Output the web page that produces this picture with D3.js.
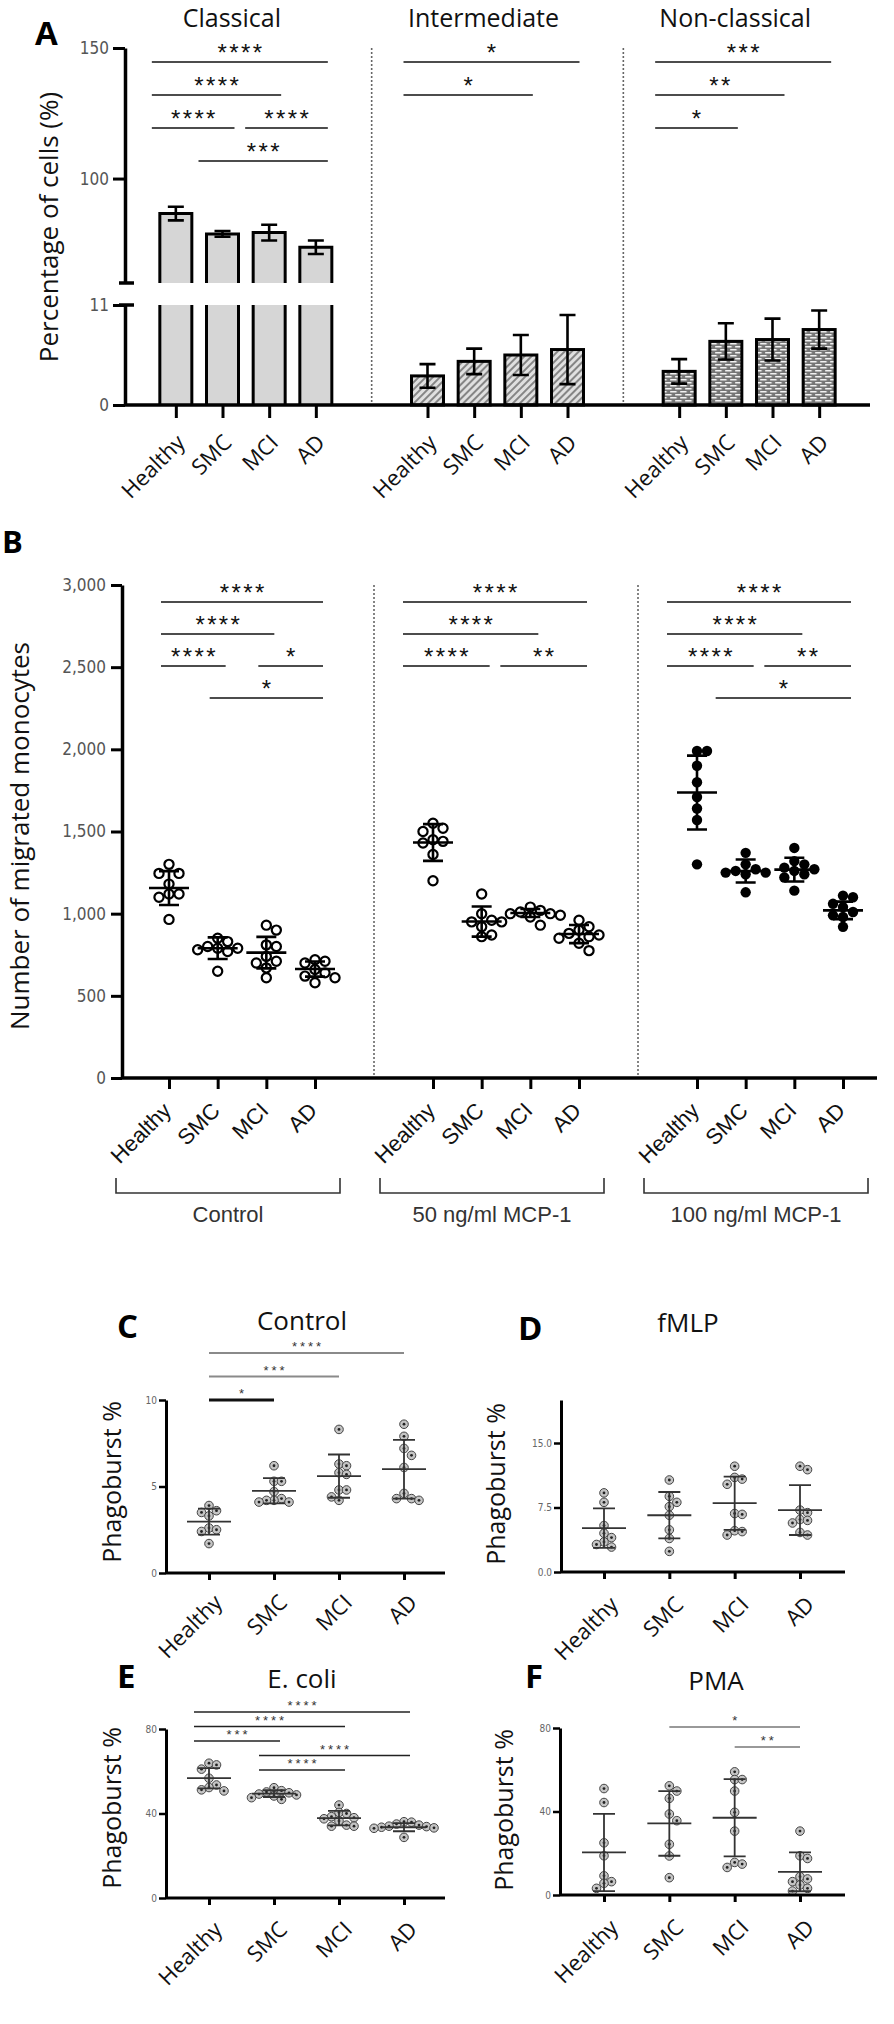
<!DOCTYPE html>
<html>
<head>
<meta charset="utf-8">
<title>Monocyte figure</title>
<script src="https://cdn.jsdelivr.net/npm/d3@7"></script>
<style>
  body { margin: 0; background: #fff; }
  svg { display: block; }
  .letter { font-family: 'Open Sans', sans-serif; font-weight: 700; font-size: 33px; fill: #000; }
  .title { font-family: 'Open Sans', sans-serif; font-size: 25px; fill: #111; }
  .ylab { font-family: 'Open Sans', sans-serif; font-size: 26px; fill: #111; }
  .catlab { font-family: 'Open Sans', sans-serif; font-size: 22px; fill: #111; }
  .catlabB { font-family: 'Liberation Sans', Arial, sans-serif; font-size: 22px; fill: #111; }
  .bracket { font-family: 'Liberation Sans', Arial, sans-serif; font-size: 22px; fill: #333; }
  .num { font-family: 'Liberation Sans Narrow', 'DejaVu Sans Condensed', sans-serif; font-size: 17px; fill: #555; }
  .numS { font-family: 'Liberation Sans Narrow', 'DejaVu Sans Condensed', sans-serif; font-size: 10px; fill: #666; }
  .sig { font-family: 'Liberation Sans', Arial, sans-serif; font-size: 24px; letter-spacing: 2.4px; fill: #111; }
  .sigS { font-family: 'Liberation Sans', Arial, sans-serif; font-size: 13px; letter-spacing: 3px; fill: #333; }
</style>
</head>
<body>
<svg id="fig" width="894" height="2024"></svg>
<script>
// ---------- data ----------

var cats = ["Healthy", "SMC", "MCI", "AD"];

// A: monocyte subsets (% of cells), mean and error
var subsetsA = ["Classical", "Intermediate", "Non-classical"];
var classicalMean = [86.6, 78.8, 79.3, 73.7];
var classicalErr = [2.6, 1.1, 3.0, 2.6];
var intermediateMean = [3.2, 4.8, 5.5, 6.1];
var intermediateErr = [1.3, 1.4, 2.2, 3.8];
var nonclassicalMean = [3.7, 7.0, 7.2, 8.3];
var nonclassicalErr = [1.35, 2.0, 2.3, 2.1];
var ticksAUpper = [100, 150];
var ticksALower = [0, 11];

// B: number of migrated monocytes
var groupsB = ["Control", "50 ng/ml MCP-1", "100 ng/ml MCP-1"];
var ticksB = [0, 500, 1000, 1500, 2000, 2500, 3000];
var migControl = [
  [1300, 1245, 1245, 1180, 1120, 1120, 1100, 965],
  [850, 830, 800, 790, 790, 780, 770, 650],
  [930, 900, 810, 800, 740, 710, 700, 670, 610],
  [720, 710, 700, 660, 640, 620, 610, 580]
];
var migControlMean = [1156, 790, 763, 663];
var migControlSD = [103, 66, 96, 46];
var mig50 = [
  [1550, 1520, 1500, 1450, 1440, 1430, 1360, 1200],
  [1120, 1000, 960, 950, 950, 920, 870, 860],
  [1040, 1020, 1010, 1000, 1000, 990, 980, 930],
  [960, 920, 900, 880, 870, 860, 850, 820, 775]
];
var mig50Mean = [1433, 952, 1004, 876];
var mig50SD = [112, 92, 24, 55];
var mig100 = [
  [1990, 1990, 1900, 1800, 1710, 1640, 1570, 1300],
  [1370, 1300, 1270, 1260, 1250, 1250, 1240, 1130],
  [1400, 1320, 1300, 1280, 1270, 1260, 1240, 1220, 1140],
  [1110, 1100, 1060, 1040, 1010, 990, 980, 920]
];
var mig100Mean = [1737, 1260, 1268, 1020];
var mig100SD = [225, 70, 72, 53];

// C-F: phagoburst %
var phControl = [
  [3.9, 3.6, 3.5, 3.3, 2.6, 2.5, 2.4, 1.7],
  [6.2, 5.3, 5.3, 4.7, 4.3, 4.2, 4.2, 4.1, 4.1],
  [8.3, 6.3, 6.2, 5.8, 5.7, 4.8, 4.8, 4.4, 4.2],
  [8.6, 7.9, 7.2, 6.8, 6.1, 4.6, 4.3, 4.3, 4.2]
];
var phControlMean = [2.97, 4.75, 5.6, 6.0];
var phControlSD = [0.75, 0.73, 1.25, 1.7];
var phFmlp = [
  [9.2, 8.1, 5.4, 4.5, 4.0, 3.5, 3.2, 2.9],
  [10.7, 8.8, 8.1, 7.6, 6.6, 4.9, 3.9, 2.4],
  [12.3, 11.0, 10.8, 10.2, 6.8, 6.7, 4.8, 4.7, 4.3],
  [12.3, 11.9, 7.2, 6.9, 6.1, 6.0, 5.7, 4.6, 4.3]
];
var phFmlpMean = [5.1, 6.6, 8.0, 7.2];
var phFmlpSD = [2.3, 2.7, 3.1, 2.9];
var phEcoli = [
  [63.8, 63.0, 61.0, 56.7, 53.5, 52.3, 51.2, 50.7],
  [52.2, 50.8, 50.2, 49.8, 49.2, 48.8, 48.3, 47.5, 46.7],
  [44.0, 40.5, 40.0, 38.5, 38.0, 37.5, 36.5, 34.5, 34.0, 34.0],
  [36.1, 35.9, 35.0, 34.5, 34.0, 33.8, 33.5, 33.2, 33.0, 28.7]
];
var phEcoliMean = [56.7, 49.4, 37.8, 33.5];
var phEcoliSD = [4.8, 1.6, 3.4, 1.9];
var phPma = [
  [51.0, 44.3, 25.0, 18.8, 9.2, 6.4, 5.6, 3.2],
  [52.3, 49.8, 46.3, 38.8, 35.6, 24.3, 18.7, 8.3],
  [59.0, 55.3, 55.3, 49.8, 39.6, 30.6, 15.6, 14.8, 13.2],
  [30.6, 18.8, 17.5, 8.8, 7.7, 6.4, 4.8, 3.2, 1.9]
];
var phPmaMean = [20.4, 34.3, 37.0, 11.1];
var phPmaSD = [18.5, 15.5, 18.5, 9.3];

// significance: [from, to, tier, label]
var sigClassical = [[0, 3, 0, "****"], [0, 2, 1, "****"], [0, 1, 2, "****"], [2, 3, 2, "****"], [1, 3, 3, "***"]];
var sigIntermediate = [[0, 3, 0, "*"], [0, 2, 1, "*"]];
var sigNonclassical = [[0, 3, 0, "***"], [0, 2, 1, "**"], [0, 1, 2, "*"]];
var sigMigControl = [[0, 3, 0, "****"], [0, 2, 1, "****"], [0, 1, 2, "****"], [2, 3, 2, "*"], [1, 3, 3, "*"]];
var sigMig50 = [[0, 3, 0, "****"], [0, 2, 1, "****"], [0, 1, 2, "****"], [2, 3, 2, "**"]];
var sigMig100 = [[0, 3, 0, "****"], [0, 2, 1, "****"], [0, 1, 2, "****"], [2, 3, 2, "**"], [1, 3, 3, "*"]];
var sigPhControl = [[0, 3, 0, "****"], [0, 2, 1, "***"], [0, 1, 2, "*"]];
var sigPhEcoli = [[0, 3, 0, "****"], [0, 2, 1, "****"], [0, 1, 2, "***"], [1, 3, 3, "****"], [1, 2, 4, "****"]];
var sigPhPma = [[1, 3, 0, "*"], [2, 3, 1, "**"]];

// ---------- helpers ----------

var svg = d3.select("#fig");
var defs = svg.append("defs");

var hatch = defs.append("pattern").attr("id", "hatch")
  .attr("patternUnits", "userSpaceOnUse").attr("width", 5).attr("height", 5)
  .attr("patternTransform", "rotate(45)");
hatch.append("rect").attr("width", 5).attr("height", 5).attr("fill", "#e0e0e0");
hatch.append("line").attr("x1", 1).attr("x2", 1).attr("y1", 0).attr("y2", 5)
  .attr("stroke", "#666").attr("stroke-width", 1.5);

var brick = defs.append("pattern").attr("id", "brick")
  .attr("patternUnits", "userSpaceOnUse").attr("width", 10).attr("height", 6);
brick.append("rect").attr("width", 10).attr("height", 6).attr("fill", "#767676");
brick.append("rect").attr("x", 1).attr("y", 1).attr("width", 6.5).attr("height", 1.5).attr("fill", "#f2f2f2");
brick.append("rect").attr("x", -4).attr("y", 4).attr("width", 6.5).attr("height", 1.5).attr("fill", "#f2f2f2");
brick.append("rect").attr("x", 6).attr("y", 4).attr("width", 6.5).attr("height", 1.5).attr("fill", "#f2f2f2");

function styleAxis(sel, w, cls) {
  sel.select(".domain").attr("stroke", "#000").attr("stroke-width", w);
  sel.selectAll(".tick line").attr("stroke", "#000").attr("stroke-width", w - 0.5);
  sel.selectAll(".tick text").attr("class", cls).attr("fill", null);
}

// rotated category labels under the axis
function catAxis(g, scale, ty, size, cls, dx, dy) {
  var ax = g.append("g").attr("transform", "translate(0," + ty + ")")
    .call(d3.axisBottom(scale).tickSize(size).tickSizeOuter(0));
  ax.select(".domain").remove();
  ax.selectAll(".tick line").attr("stroke", "#000").attr("stroke-width", 3);
  ax.selectAll(".tick text").attr("class", cls).attr("fill", null)
    .attr("y", 0).attr("dy", null).attr("text-anchor", "end")
    .attr("transform", "translate(" + dx + "," + dy + ") rotate(-45)");
  return ax;
}

function drawSig(g, list, xs, o) {
  list.forEach(function(d) {
    var x1 = xs(cats[d[0]]) - o.padL, x2 = xs(cats[d[1]]) + o.padR;
    var yy = o.top + d[2] * o.step;
    var st = o.line ? o.line(d) : [o.color, o.width];
    g.append("line").attr("x1", x1).attr("x2", x2).attr("y1", yy).attr("y2", yy)
      .attr("stroke", st[0]).attr("stroke-width", st[1]);
    g.append("text").attr("class", o.cls)
      .attr("x", (x1 + x2) / 2 + o.ls / 2).attr("y", yy - o.dy)
      .attr("text-anchor", "middle").text(d[3]);
  });
}

// simple beeswarm: offsets so points don't pile on top of each other
function swarm(vals, y, s) {
  var placed = [];
  var out = vals.map(function(v) { return {v: v, y: y(v), dx: 0}; });
  out.slice().sort(function(a, b) { return b.v - a.v; }).forEach(function(p) {
    for (var k = 0; k < 40; k++) {
      var off = (k % 2 ? 1 : -1) * Math.ceil(k / 2) * s;
      var hit = placed.some(function(q) {
        var dx = q.dx - off, dy = q.y - p.y;
        return dx * dx + dy * dy < s * s * 0.95;
      });
      if (!hit) { p.dx = off; break; }
    }
    placed.push(p);
  });
  return out;
}

function drawScatter(g, cx, y, vals, mean, sd, o) {
  var pts = swarm(vals, y, o.step);
  var dots = g.append("g").selectAll("g").data(pts).join("g")
    .attr("transform", function(p) { return "translate(" + (cx + p.dx) + "," + p.y + ")"; });
  dots.append("circle").attr("r", o.r).attr("fill", o.fill)
    .attr("stroke", o.stroke).attr("stroke-width", o.sw);
  if (o.dot) dots.append("circle").attr("r", 1.4).attr("fill", "#222");
  var hi = y(mean + sd), lo = y(mean - sd), m = y(mean);
  g.append("path")
    .attr("d", "M" + (cx - o.meanW / 2) + "," + m + "H" + (cx + o.meanW / 2) +
      "M" + cx + "," + hi + "V" + lo +
      "M" + (cx - o.capW / 2) + "," + hi + "H" + (cx + o.capW / 2) +
      "M" + (cx - o.capW / 2) + "," + lo + "H" + (cx + o.capW / 2))
    .attr("fill", "none").attr("stroke", o.lineColor).attr("stroke-width", o.lw);
}

// ---------- panel A ----------

var gA = svg.append("g");
var xA = d3.scaleBand().domain(subsetsA).range([120, 875]);
var xAin = d3.scalePoint().domain(cats).range([-70, 70]);
var yAU = d3.scaleLinear().domain([60, 150]).range([283, 48]);
var yAL = d3.scaleLinear().domain([0, 11]).range([405, 305]);

gA.append("text").attr("class", "letter").attr("x", 35).attr("y", 45).text("A");
gA.append("text").attr("class", "ylab").attr("text-anchor", "middle")
  .attr("transform", "translate(58,227) rotate(-90)").text("Percentage of cells (%)");

// dotted separators
gA.selectAll(null).data(subsetsA.slice(1)).join("line")
  .attr("x1", function(d) { return xA(d); }).attr("x2", function(d) { return xA(d); })
  .attr("y1", yAU(150)).attr("y2", yAL(0))
  .attr("stroke", "#666").attr("stroke-width", 1.6).attr("stroke-dasharray", "2,2");

var barsA = [
  {name: "Classical", mean: classicalMean, err: classicalErr, fill: "#d6d6d6", sig: sigClassical},
  {name: "Intermediate", mean: intermediateMean, err: intermediateErr, fill: "url(#hatch)", sig: sigIntermediate},
  {name: "Non-classical", mean: nonclassicalMean, err: nonclassicalErr, fill: "url(#brick)", sig: sigNonclassical}
];

barsA.forEach(function(s) {
  var cx0 = xA(s.name) + xA.bandwidth() / 2;
  var g = gA.append("g").attr("transform", "translate(" + cx0 + ",0)");
  g.append("text").attr("class", "title").attr("text-anchor", "middle")
    .attr("x", -14).attr("y", 27).text(s.name);

  var rows = cats.map(function(c, i) { return {c: c, v: s.mean[i], e: s.err[i]}; });
  var hw = 16;
  var broken = s.name === "Classical";
  var yy = broken ? yAU : yAL;
  if (broken) {
    g.selectAll(null).data(rows).join("rect")
      .attr("x", function(d) { return xAin(d.c) - hw; }).attr("width", hw * 2)
      .attr("y", yAL(11)).attr("height", yAL(0) - yAL(11)).attr("fill", s.fill);
    g.selectAll(null).data(rows).join("path")
      .attr("d", function(d) {
        var x0 = xAin(d.c) - hw, x1 = xAin(d.c) + hw;
        return "M" + x0 + "," + yAL(0) + "V" + yAL(11) + "M" + x1 + "," + yAL(11) + "V" + yAL(0);
      })
      .attr("fill", "none").attr("stroke", "#000").attr("stroke-width", 3);
    g.selectAll(null).data(rows).join("rect")
      .attr("x", function(d) { return xAin(d.c) - hw; }).attr("width", hw * 2)
      .attr("y", function(d) { return yAU(d.v); })
      .attr("height", function(d) { return yAU(60) - yAU(d.v); }).attr("fill", s.fill);
    g.selectAll(null).data(rows).join("path")
      .attr("d", function(d) {
        var x0 = xAin(d.c) - hw, x1 = xAin(d.c) + hw;
        return "M" + x0 + "," + yAU(60) + "V" + yAU(d.v) + "H" + x1 + "V" + yAU(60);
      })
      .attr("fill", "none").attr("stroke", "#000").attr("stroke-width", 3);
  } else {
    g.selectAll(null).data(rows).join("rect")
      .attr("x", function(d) { return xAin(d.c) - hw; }).attr("width", hw * 2)
      .attr("y", function(d) { return yAL(d.v); })
      .attr("height", function(d) { return yAL(0) - yAL(d.v); })
      .attr("fill", s.fill).attr("stroke", "#000").attr("stroke-width", 3);
  }
  // error bars
  g.selectAll(null).data(rows).join("path")
    .attr("d", function(d) {
      var cx = xAin(d.c), hi = yy(d.v + d.e), lo = yy(d.v - d.e);
      return "M" + (cx - 8) + "," + hi + "H" + (cx + 8) + "M" + cx + "," + hi + "V" + lo +
        "M" + (cx - 8) + "," + lo + "H" + (cx + 8);
    })
    .attr("fill", "none").attr("stroke", "#000").attr("stroke-width", 2.6);

  catAxis(g, xAin, yAL(0), 13, "catlab", 10, 39);
  drawSig(g, s.sig, xAin, {padL: 24, padR: 12, top: 62, step: 33, color: "#111", width: 1.6,
    cls: "sig", ls: 2.4, dy: 1});
});

// broken y axis + x axis line
var axU = gA.append("g").attr("transform", "translate(125,0)")
  .call(d3.axisLeft(yAU).tickValues(ticksAUpper).tickSize(12).tickSizeOuter(0).tickPadding(4));
styleAxis(axU, 3.5, "num");
var axL = gA.append("g").attr("transform", "translate(125,0)")
  .call(d3.axisLeft(yAL).tickValues(ticksALower).tickSize(12).tickSizeOuter(0).tickPadding(4));
styleAxis(axL, 3.5, "num");
gA.selectAll(null).data([60, 11]).join("line")
  .attr("x1", 119).attr("x2", 134)
  .attr("y1", function(d, i) { return i ? yAL(d) : yAU(d); })
  .attr("y2", function(d, i) { return i ? yAL(d) : yAU(d); })
  .attr("stroke", "#000").attr("stroke-width", 3.5);
gA.append("line").attr("x1", 125).attr("x2", 870).attr("y1", yAL(0)).attr("y2", yAL(0))
  .attr("stroke", "#000").attr("stroke-width", 3.5);

// ---------- panel B ----------

var gB = svg.append("g");
var xB = d3.scaleBand().domain(groupsB).range([110, 902]);
var xBin = d3.scalePoint().domain(cats).range([-73, 73]);
var yB = d3.scaleLinear().domain([0, 3000]).range([1078, 585]);

gB.append("text").attr("class", "letter").attr("x", 2).attr("y", 553).style("font-size", "31px").text("B");
gB.append("text").attr("class", "ylab").style("font-size", "26px").attr("text-anchor", "middle")
  .attr("transform", "translate(29,836) rotate(-90)").text("Number of migrated monocytes");

gB.selectAll(null).data(groupsB.slice(1)).join("line")
  .attr("x1", function(d) { return xB(d); }).attr("x2", function(d) { return xB(d); })
  .attr("y1", yB(3000)).attr("y2", yB(0))
  .attr("stroke", "#666").attr("stroke-width", 1.6).attr("stroke-dasharray", "2,2");

var migB = [
  {name: groupsB[0], pts: migControl, mean: migControlMean, sd: migControlSD, sig: sigMigControl, filled: false, padL: 8},
  {name: groupsB[1], pts: mig50, mean: mig50Mean, sd: mig50SD, sig: sigMig50, filled: false, padL: 30},
  {name: groupsB[2], pts: mig100, mean: mig100Mean, sd: mig100SD, sig: sigMig100, filled: true, padL: 30}
];

migB.forEach(function(s) {
  var cx0 = xB(s.name) + xB.bandwidth() / 2;
  var g = gB.append("g").attr("transform", "translate(" + cx0 + ",0)");
  cats.forEach(function(c, i) {
    drawScatter(g, xBin(c), yB, s.pts[i], s.mean[i], s.sd[i], {
      step: 10, r: s.filled ? 5.2 : 4.6, fill: s.filled ? "#000" : "#fff", stroke: "#000",
      sw: s.filled ? 0 : 2.2, dot: false, meanW: 40, capW: 20, lineColor: "#000", lw: 2.6
    });
  });
  catAxis(g, xBin, yB(0), 11, "catlabB", 3, 34);
  drawSig(g, s.sig, xBin, {padL: s.padL, padR: 8, top: 602, step: 32, color: "#111", width: 1.6,
    cls: "sig", ls: 2.4, dy: 1});
  // bracket under the group
  var bx1 = xBin(cats[0]) - 53, bx2 = xBin(cats[3]) + 25;
  g.append("path").attr("d", "M" + bx1 + ",1178V1193H" + bx2 + "V1178")
    .attr("fill", "none").attr("stroke", "#333").attr("stroke-width", 1.6);
  g.append("text").attr("class", "bracket").attr("text-anchor", "middle")
    .attr("x", (bx1 + bx2) / 2).attr("y", 1222).text(s.name);
});

var axB = gB.append("g").attr("transform", "translate(122,0)")
  .call(d3.axisLeft(yB).tickValues(ticksB).tickFormat(d3.format(",")).tickSize(11).tickSizeOuter(0).tickPadding(5));
styleAxis(axB, 3.5, "num");
gB.append("line").attr("x1", 122).attr("x2", 877).attr("y1", yB(0)).attr("y2", yB(0))
  .attr("stroke", "#000").attr("stroke-width", 3.5);

// ---------- panels C-F ----------

var panelsCF = [
  {letter: "C", title: "Control", pts: phControl, mean: phControlMean, sd: phControlSD, sig: sigPhControl,
   xr: [209, 404], dom: [0, 10], yr: [1573, 1400], ticks: [0, 5, 10], fmt: d3.format("d"),
   ax: 166, axEnd: 445, lx: 117, ly: 1338, tx: 302, ty: 1330, yl: [121, 1482], labDx: 14, labDy: 31,
   sigTop: 1353, sigStep: 23.5, padL: 0, padR: 0,
   line: function(d) { return d[2] === 2 ? ["#111", 3] : ["#8a8a8a", 2]; }},
  {letter: "D", title: "fMLP", pts: phFmlp, mean: phFmlpMean, sd: phFmlpSD, sig: [],
   xr: [604, 800], dom: [0, 20], yr: [1572, 1400], ticks: [0, 7.5, 15], fmt: d3.format(".1f"),
   ax: 561, axEnd: 845, lx: 518, ly: 1340, tx: 688, ty: 1332, yl: [505, 1484], labDx: 15, labDy: 34},
  {letter: "E", title: "E. coli", pts: phEcoli, mean: phEcoliMean, sd: phEcoliSD, sig: sigPhEcoli,
   xr: [209, 404], dom: [0, 80], yr: [1898, 1729], ticks: [0, 40, 80], fmt: d3.format("d"),
   ax: 166, axEnd: 445, lx: 117, ly: 1688, tx: 302, ty: 1688, yl: [121, 1808], labDx: 14, labDy: 33,
   sigTop: 1712, sigStep: 14.5, padL: 15, padR: 6,
   line: function() { return ["#222", 1.6]; }},
  {letter: "F", title: "PMA", pts: phPma, mean: phPmaMean, sd: phPmaSD, sig: sigPhPma,
   xr: [604, 800], dom: [0, 80], yr: [1895, 1728], ticks: [0, 40, 80], fmt: d3.format("d"),
   ax: 560, axEnd: 845, lx: 525, ly: 1688, tx: 716, ty: 1690, yl: [513, 1810], labDx: 15, labDy: 34,
   sigTop: 1727, sigStep: 20, padL: 0, padR: 0,
   line: function() { return ["#777", 1.6]; }}
];

panelsCF.forEach(function(p) {
  var g = svg.append("g");
  var x = d3.scalePoint().domain(cats).range(p.xr);
  var y = d3.scaleLinear().domain(p.dom).range(p.yr);
  g.append("text").attr("class", "letter").attr("x", p.lx).attr("y", p.ly).text(p.letter);
  g.append("text").attr("class", "title").style("font-size", "26px").attr("text-anchor", "middle")
    .attr("x", p.tx).attr("y", p.ty).text(p.title);
  g.append("text").attr("class", "ylab").style("font-size", "25px").attr("text-anchor", "middle")
    .attr("transform", "translate(" + p.yl[0] + "," + p.yl[1] + ") rotate(-90)").text("Phagoburst %");

  cats.forEach(function(c, i) {
    drawScatter(g, x(c), y, p.pts[i], p.mean[i], p.sd[i], {
      step: 7.5, r: 4.3, fill: "#c4c4c4", stroke: "#444", sw: 1, dot: true,
      meanW: 44, capW: 22, lineColor: "#333", lw: 1.8
    });
  });

  var ay = g.append("g").attr("transform", "translate(" + p.ax + ",0)")
    .call(d3.axisLeft(y).tickValues(p.ticks).tickFormat(p.fmt).tickSize(7).tickSizeOuter(0).tickPadding(2));
  styleAxis(ay, 3, "numS");
  g.append("line").attr("x1", p.ax).attr("x2", p.axEnd).attr("y1", y(0)).attr("y2", y(0))
    .attr("stroke", "#000").attr("stroke-width", 3);
  catAxis(g, x, y(0), 7, "catlab", p.labDx, p.labDy);
  if (p.sig.length) {
    drawSig(g, p.sig, x, {padL: p.padL, padR: p.padR, top: p.sigTop, step: p.sigStep, line: p.line,
      cls: "sigS", ls: 3, dy: 2});
  }
});
</script>
</body>
</html>
